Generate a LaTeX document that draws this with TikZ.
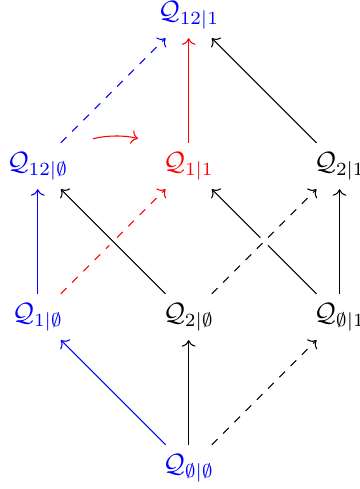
\documentclass[tikz,border=0pt]{standalone}
\usepackage{amsmath,amssymb}
\usepackage{xcolor}
\usepackage{tikz}
\usetikzlibrary{arrows.meta,positioning}
\tikzstyle{lat}=[inner sep=0.333em]
\tikzstyle{edge}=[->, preaction={draw, white, line width=4pt, -}]
\tikzstyle{bluelat}=[lat, text=blue]
\tikzstyle{redlat}=[lat, text=red]

\begin{document}
\begin{tikzpicture}
    \useasboundingbox (-2.5,-0.28) rectangle (2.26,6.2);

    % Bottom row
    \node[bluelat] (ee) at (0,0) {$\mathcal{Q}_{\emptyset|\emptyset}$};

    % Second row
    \node[bluelat] (oe) at (-2,2) {$\mathcal{Q}_{1|\emptyset}$};
    \node[lat] (te) at (0,2) {$\mathcal{Q}_{2|\emptyset}$};
    \node[lat] (eo) at (2,2) {$\mathcal{Q}_{\emptyset|1}$};

    % Third row
    \node[bluelat] (ote) at (-2,4) {$\mathcal{Q}_{12|\emptyset}$};
    \node[redlat] (oo) at (0,4) {$\mathcal{Q}_{1|1}$};
    \node[lat] (to) at (2,4) {$\mathcal{Q}_{2|1}$};

    % Top
    \node[bluelat] (oto) at (0,6) {$\mathcal{Q}_{12|1}$};

    \draw[edge, blue] (ee) -- (oe);
    \draw[edge] (ee) -- (te);
    \draw[edge, dashed] (ee) -- (eo);

    \draw[edge, blue] (oe) -- (ote);
    \draw[edge, red, dashed] (oe) -- (oo);
    \draw[edge] (te) -- (ote);
    \draw[edge] (eo) -- (oo);
    \draw[edge, dashed] (te) -- (to);
    \draw[edge] (eo) -- (to);

    \draw[edge, blue, dashed] (ote) -- (oto);
    \draw[edge, red] (oo) -- (oto);
    \draw[edge] (to) -- (oto);
    \draw[->, red, shorten <=0.21cm, shorten >=0.22cm]
      (ote.north east) to[bend left=15] (oo.north west);

  \end{tikzpicture}
\end{document}
